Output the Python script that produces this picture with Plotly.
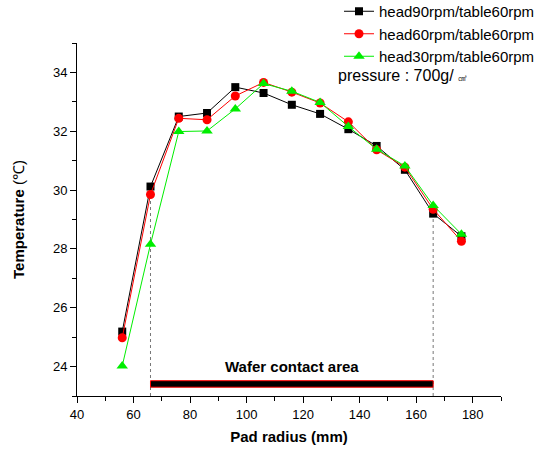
import plotly.graph_objects as go

radius_mm = [56, 66, 76, 86, 96, 106, 116, 126, 136, 146, 156, 166, 176]
temp_head90 = [25.19, 30.12, 32.50, 32.62, 33.50, 33.30, 32.90, 32.59, 32.07, 31.50, 30.69, 29.20, 28.43]
temp_head60 = [24.98, 29.85, 32.44, 32.39, 33.20, 33.66, 33.33, 32.96, 32.32, 31.37, 30.78, 29.35, 28.26]
temp_head30 = [24.02, 28.16, 31.99, 32.01, 32.76, 33.62, 33.36, 32.98, 32.16, 31.39, 30.82, 29.48, 28.50]
series_names = ["head90rpm/table60rpm", "head60rpm/table60rpm", "head30rpm/table60rpm"]
contact_area = [66, 166]
contact_bar_level = [23.30, 23.52]
contact_label = "Wafer contact area"
contact_label_level = 24.0
pressure_text = "pressure : 700g/ <span style='font-size:9px'>㎠</span>"

FONT = "Liberation Sans, Arial, sans-serif"

fig = go.Figure()

# dotted guide lines at contact area edges (up to the head90 curve)
for xe in contact_area:
    ytop = temp_head90[radius_mm.index(xe)]
    fig.add_trace(go.Scatter(x=[xe, xe], y=[23, ytop], mode="lines",
                             line=dict(color="#777777", width=1, dash="dot"),
                             showlegend=False, hoverinfo="skip"))

styles = [
    dict(color="black", symbol="square", size=8),
    dict(color="red", symbol="circle", size=9),
    dict(color="#00ee00", symbol="triangle-up", size=10),
]
for name, vals, st in zip(series_names, [temp_head90, temp_head60, temp_head30], styles):
    fig.add_trace(go.Scatter(
        x=radius_mm, y=vals, mode="lines+markers", name=name,
        line=dict(color=st["color"], width=1),
        marker=dict(color=st["color"], symbol=st["symbol"], size=st["size"],
                    line=dict(width=0)),
    ))

# contact area bar
fig.add_shape(type="rect", xref="x", yref="y",
              x0=contact_area[0], x1=contact_area[1],
              y0=contact_bar_level[0], y1=contact_bar_level[1],
              fillcolor="black", line=dict(color="red", width=1))

fig.add_annotation(x=(contact_area[0] + contact_area[1]) / 2, y=contact_label_level,
                   xref="x", yref="y", text="<b>" + contact_label + "</b>",
                   showarrow=False, font=dict(family=FONT, size=15, color="black"))

fig.add_annotation(x=(336 - 77) / 424, y=1 + (43 - 75) / 353, xref="paper", yref="paper",
                   text=pressure_text, showarrow=False, xanchor="left", yanchor="middle",
                   font=dict(family=FONT, size=16, color="black"))

fig.update_layout(
    width=544, height=454,
    margin=dict(l=77, r=43, t=43, b=58, autoexpand=False),
    paper_bgcolor="white", plot_bgcolor="white",
    font=dict(family=FONT, size=13, color="black"),
    legend=dict(x=(339 - 77) / 424, y=1 + 48 / 353, xanchor="left", yanchor="top",
                font=dict(family=FONT, size=15, color="black"),
                bgcolor="rgba(0,0,0,0)", tracegroupgap=0, itemwidth=30),
    xaxis=dict(range=[40, 190], dtick=20, tick0=40, showgrid=False, zeroline=False,
               showline=True, linecolor="black", linewidth=1,
               ticks="outside", ticklen=6, tickcolor="black",
               minor=dict(dtick=10, ticks="outside", ticklen=4, tickcolor="black"),
               tickfont=dict(size=13),
               title=dict(text="<b>Pad radius (mm)</b>", font=dict(size=15), standoff=10)),
    yaxis=dict(range=[23, 35], dtick=2, tick0=24, showgrid=False, zeroline=False,
               showline=True, linecolor="black", linewidth=1,
               ticks="outside", ticklen=6, tickcolor="black",
               minor=dict(dtick=1, ticks="outside", ticklen=4, tickcolor="black"),
               tickfont=dict(size=13),
               title=dict(text="<b>Temperature</b> (℃)", font=dict(size=15), standoff=24)),
)

fig.write_html("out.html", config={"displayModeBar": False},
               post_script="document.body.style.margin='0';")
